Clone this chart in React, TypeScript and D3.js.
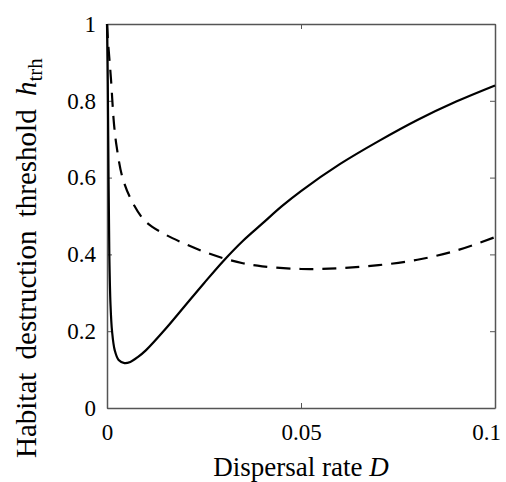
import React, { useEffect, useRef } from "react";
import {
  select,
  scaleLinear,
  axisBottom,
  axisLeft,
  axisTop,
  axisRight,
  line,
  curveCatmullRom
} from "d3";

// solid curve
const solidD = [0, 0.0002, 0.0004, 0.0006, 0.0009, 0.0013, 0.002, 0.003, 0.0045, 0.006, 0.008, 0.01, 0.015, 0.02, 0.025, 0.03, 0.035, 0.04, 0.045, 0.05, 0.06, 0.07, 0.08, 0.09, 0.1];
const solidH = [1, 0.85, 0.6, 0.4, 0.27, 0.2, 0.15, 0.125, 0.117, 0.12, 0.133, 0.15, 0.205, 0.265, 0.325, 0.383, 0.435, 0.48, 0.525, 0.565, 0.635, 0.695, 0.75, 0.798, 0.84];

// dashed curve
const dashedD = [0, 0.0003, 0.001, 0.0018, 0.0025, 0.004, 0.0066, 0.01, 0.015, 0.02, 0.025, 0.03, 0.035, 0.04, 0.05, 0.06, 0.07, 0.08, 0.09, 0.1];
const dashedH = [1, 0.95, 0.86, 0.74, 0.68, 0.6, 0.535, 0.485, 0.452, 0.428, 0.407, 0.39, 0.377, 0.369, 0.362, 0.364, 0.372, 0.386, 0.41, 0.445];

const xTicks = [0, 0.05, 0.1];
const xTickLabels = ["0", "0.05", "0.1"];
const yTicks = [0, 0.2, 0.4, 0.6, 0.8, 1];
const yTickLabels = ["0", "0.2", "0.4", "0.6", "0.8", "1"];

const W = 506;
const H = 482;
const margin = { left: 107, right: 11, top: 24, bottom: 74 };
const frameColor = "#555";
const font = "'Liberation Serif', 'Times New Roman', serif";

function ThresholdChart() {
  const svgRef = useRef<SVGSVGElement>(null);

  useEffect(() => {
    const svg = select(svgRef.current);
    svg.selectAll("*").remove();

    const xScale = scaleLinear()
      .domain([0, 0.1])
      .range([margin.left, W - margin.right]);
    const yScale = scaleLinear()
      .domain([0, 1])
      .range([H - margin.bottom, margin.top]);

    const x0 = xScale.range()[0];
    const x1 = xScale.range()[1];
    const y0 = yScale.range()[0];
    const y1 = yScale.range()[1];

    // axes with inward ticks, boxed
    const g = svg.append("g");
    const xAxisG = g.append("g")
      .attr("transform", `translate(0, ${y0})`)
      .call(
        axisBottom(xScale)
          .tickValues(xTicks)
          .tickSize(-5)
          .tickSizeOuter(0)
          .tickPadding(16)
          .tickFormat((d, i) => xTickLabels[i])
      );
    g.append("g")
      .attr("transform", `translate(0, ${y1})`)
      .call(axisTop(xScale).tickValues(xTicks).tickSize(-5).tickSizeOuter(0).tickFormat(() => ""));
    g.append("g")
      .attr("transform", `translate(${x0}, 0)`)
      .call(
        axisLeft(yScale)
          .tickValues(yTicks)
          .tickSize(-5)
          .tickSizeOuter(0)
          .tickPadding(11)
          .tickFormat((d, i) => yTickLabels[i])
      );
    g.append("g")
      .attr("transform", `translate(${x1}, 0)`)
      .call(axisRight(yScale).tickValues(yTicks).tickSize(-5).tickSizeOuter(0).tickFormat(() => ""));

    g.selectAll(".domain").attr("stroke", frameColor).attr("stroke-width", 1.5);
    g.selectAll(".tick line").attr("stroke", frameColor).attr("stroke-width", 1);
    g.selectAll(".tick text")
      .attr("fill", "#000")
      .style("font-family", font)
      .style("font-size", "23px");
    // last x label pulled in so it stays on the page
    xAxisG.selectAll(".tick text").filter((d, i) => i === xTicks.length - 1).attr("dx", -9);

    // curves
    const solidPts = solidD.map((d, i) => [d, solidH[i]] as [number, number]);
    const dashedPts = dashedD.map((d, i) => [d, dashedH[i]] as [number, number]);
    const lineGen = line<[number, number]>()
      .x(d => xScale(d[0]))
      .y(d => yScale(d[1]))
      .curve(curveCatmullRom.alpha(0.5));

    svg.append("path")
      .datum(dashedPts)
      .attr("d", lineGen)
      .attr("fill", "none")
      .attr("stroke", "#000")
      .attr("stroke-width", 2.2)
      .attr("stroke-dasharray", "14,9");

    svg.append("path")
      .datum(solidPts)
      .attr("d", lineGen)
      .attr("fill", "none")
      .attr("stroke", "#000")
      .attr("stroke-width", 2.2);

    // x label
    const xl = svg.append("text")
      .attr("x", (x0 + x1) / 2)
      .attr("y", 476)
      .attr("text-anchor", "middle")
      .style("font-family", font)
      .style("font-size", "27px");
    xl.append("tspan").text("Dispersal rate ");
    xl.append("tspan").style("font-style", "italic").text("D");

    // y label
    const yl = svg.append("text")
      .attr("transform", `translate(36, 458) rotate(-90)`)
      .attr("text-anchor", "start")
      .style("font-family", font)
      .style("font-size", "29px")
      .style("word-spacing", "6px");
    yl.append("tspan").text("Habitat destruction threshold ");
    yl.append("tspan").style("font-style", "italic").text("h");
    yl.append("tspan").attr("dy", 6).style("font-size", "21px").text("trh");
  }, []);

  return (
    <svg
      ref={svgRef}
      width={W}
      height={H}
      style={{ position: "absolute", left: 0, top: 0, background: "#fff" }}
    />
  );
}

export default function App() {
  return <ThresholdChart />;
}
